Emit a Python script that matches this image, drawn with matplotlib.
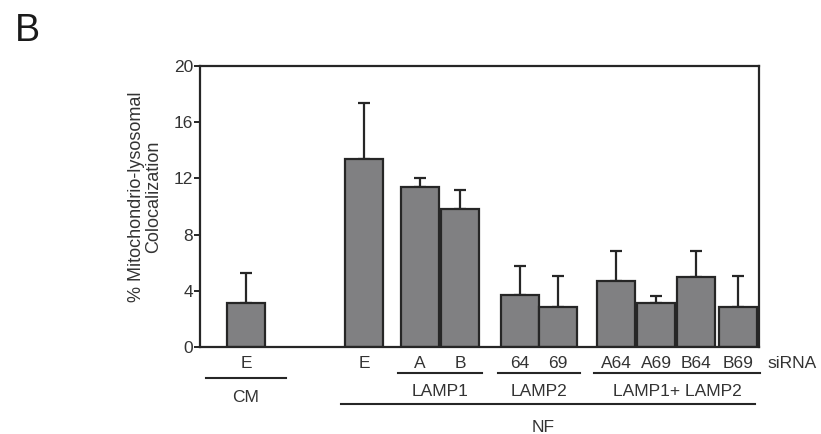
import matplotlib.pyplot as plt
from matplotlib.transforms import blended_transform_factory

plt.rcParams['font.family'] = ['Liberation Sans', 'DejaVu Sans']

# values
labels = ["E", "E", "A", "B", "64", "69", "A64", "A69", "B64", "B69"]
means = [3.1, 13.4, 11.4, 9.8, 3.7, 2.85, 4.7, 3.1, 5.0, 2.85]
errs = [2.2, 4.0, 0.6, 1.35, 2.1, 2.2, 2.1, 0.55, 1.8, 2.2]

# group labels: (name, first bar, last bar)
groups = [("CM", 0, 0), ("LAMP1", 2, 3), ("LAMP2", 4, 5), ("LAMP1+ LAMP2", 6, 9)]
outer = ("NF", 1, 9)

# layout
xpos = [1.15, 4.1, 5.5, 6.5, 8.0, 8.95, 10.4, 11.4, 12.4, 13.45]
bar_w = 0.95
dark = "#262626"
txtc = "#333333"
fs = 12.5

fig = plt.figure(figsize=(8.21, 4.34), dpi=100)
ax = fig.add_axes([200 / 821, 1 - 347 / 434, 559 / 821, 281 / 434])

ax.bar(xpos, means, width=bar_w, color="#808082", edgecolor=dark, linewidth=1.6,
       zorder=2)
ax.errorbar(xpos, means, yerr=[[0] * len(errs), errs], fmt="none", ecolor=dark,
            elinewidth=1.6, capsize=4.5, capthick=1.6, zorder=1)

ax.set_xlim(0, 13.975)
ax.set_ylim(0, 20)
ax.set_yticks([0, 4, 8, 12, 16, 20])
ax.set_xticks([])
for s in ax.spines.values():
    s.set_linewidth(1.6)
    s.set_color(dark)
ax.tick_params(axis="y", direction="out", length=4, width=1.4, color=dark,
               labelsize=fs, labelcolor=txtc, pad=1)
ax.set_ylabel("% Mitochondrio-lysosomal\nColocalization", fontsize=13,
              color=txtc, linespacing=1.0)
ax.yaxis.set_label_coords(-0.068, 0.534)

tr = blended_transform_factory(ax.transData, fig.transFigure)


def fy(py):
    return 1 - py / 434


for x, lab in zip(xpos, labels):
    ax.text(x, fy(364), lab, transform=tr, ha="center", va="center",
            fontsize=fs, color=txtc)
tr_ax = blended_transform_factory(ax.transAxes, fig.transFigure)
ax.text(1.016, fy(364), "siRNA", transform=tr_ax, ha="left", va="center",
        fontsize=fs, color=txtc)

for name, i0, i1 in groups:
    pad = 1.0 if i0 == i1 else 0.55
    x0, x1 = xpos[i0] - pad, xpos[i1] + pad
    ly = 378 if i0 == i1 else 373
    ax.plot([x0, x1], [fy(ly), fy(ly)], transform=tr, color=dark, lw=1.5,
            clip_on=False)
    ax.text((x0 + x1) / 2, fy(ly + 19), name, transform=tr, ha="center",
            va="center", fontsize=fs, color=txtc)

name, i0, i1 = outer
x0, x1 = xpos[i0] - 0.58, xpos[i1] + 0.43
ax.plot([x0, x1], [fy(404), fy(404)], transform=tr, color=dark, lw=1.5,
        clip_on=False)
ax.text(543 / 821, fy(427), name, transform=fig.transFigure, ha="center",
        va="center", fontsize=fs, color=txtc)

fig.text(15 / 821, fy(31), "B", fontsize=27, ha="left", va="center",
         color="#1a1a1a")

fig.savefig("out.png", dpi=100)
